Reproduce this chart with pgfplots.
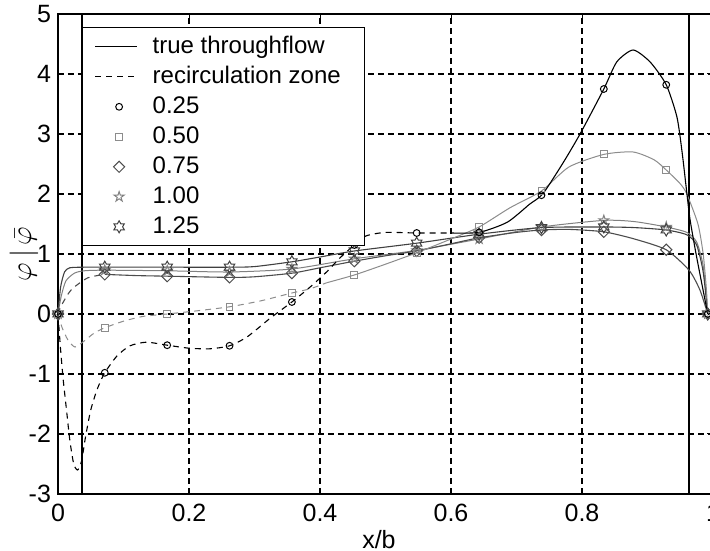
\documentclass[border=0pt]{standalone}
\usepackage{fontspec}
\setmainfont{Liberation Sans}
\usepackage{pgfplots}
\pgfplotsset{compat=1.18}

\definecolor{c25}{gray}{0.0}
\definecolor{c50}{gray}{0.55}
\definecolor{c75}{gray}{0.30}
\definecolor{c100}{gray}{0.50}
\definecolor{c125}{gray}{0.25}

\pgfplotsset{
  lineleg/.style={legend image code/.code={\draw[##1] (0pt,0pt) -- (21pt,0pt);}},
  markleg/.style={legend image code/.code={\draw[##1] plot coordinates {(12pt,0pt)};}},
}

\pgfdeclareplotmark{mdiamond}{%
  \pgfpathmoveto{\pgfpoint{0pt}{\pgfplotmarksize}}%
  \pgfpathlineto{\pgfpoint{\pgfplotmarksize}{0pt}}%
  \pgfpathlineto{\pgfpoint{0pt}{-\pgfplotmarksize}}%
  \pgfpathlineto{\pgfpoint{-\pgfplotmarksize}{0pt}}%
  \pgfpathclose\pgfusepathqstroke}
\pgfdeclareplotmark{pentagram}{%
  \pgfpathmoveto{\pgfpointpolar{90}{\pgfplotmarksize}}%
  \pgfpathlineto{\pgfpointpolar{126}{0.382\pgfplotmarksize}}%
  \pgfpathlineto{\pgfpointpolar{162}{\pgfplotmarksize}}%
  \pgfpathlineto{\pgfpointpolar{198}{0.382\pgfplotmarksize}}%
  \pgfpathlineto{\pgfpointpolar{234}{\pgfplotmarksize}}%
  \pgfpathlineto{\pgfpointpolar{270}{0.382\pgfplotmarksize}}%
  \pgfpathlineto{\pgfpointpolar{306}{\pgfplotmarksize}}%
  \pgfpathlineto{\pgfpointpolar{342}{0.382\pgfplotmarksize}}%
  \pgfpathlineto{\pgfpointpolar{18}{\pgfplotmarksize}}%
  \pgfpathlineto{\pgfpointpolar{54}{0.382\pgfplotmarksize}}%
  \pgfpathclose\pgfusepathqstroke}
\pgfdeclareplotmark{hexagram}{%
  \pgfpathmoveto{\pgfpointpolar{90}{\pgfplotmarksize}}%
  \pgfpathlineto{\pgfpointpolar{120}{0.577\pgfplotmarksize}}%
  \pgfpathlineto{\pgfpointpolar{150}{\pgfplotmarksize}}%
  \pgfpathlineto{\pgfpointpolar{180}{0.577\pgfplotmarksize}}%
  \pgfpathlineto{\pgfpointpolar{210}{\pgfplotmarksize}}%
  \pgfpathlineto{\pgfpointpolar{240}{0.577\pgfplotmarksize}}%
  \pgfpathlineto{\pgfpointpolar{270}{\pgfplotmarksize}}%
  \pgfpathlineto{\pgfpointpolar{300}{0.577\pgfplotmarksize}}%
  \pgfpathlineto{\pgfpointpolar{330}{\pgfplotmarksize}}%
  \pgfpathlineto{\pgfpointpolar{0}{0.577\pgfplotmarksize}}%
  \pgfpathlineto{\pgfpointpolar{30}{\pgfplotmarksize}}%
  \pgfpathlineto{\pgfpointpolar{60}{0.577\pgfplotmarksize}}%
  \pgfpathclose\pgfusepathqstroke}

\begin{document}
\begin{tikzpicture}
\begin{axis}[
  name=ax,
  scale only axis, width=327.5pt, height=240pt,
  xmin=0, xmax=1, ymin=-3, ymax=5,
  xtick={0,0.2,0.4,0.6,0.8,1}, ytick={-3,-2,-1,0,1,2,3,4,5},
  grid=major,
  grid style={black, line width=0.6pt, dash pattern=on 3pt off 2pt},
  axis line style={line width=0.6pt},
  tick align=inside, major tick length=3pt,
  tick style={black, line width=0.5pt},
  /pgf/number format/assume math mode=true,
  ticklabel style={font=\fontsize{12.5}{14}\selectfont},
  xticklabel style={yshift=-1.5pt},
  label style={font=\fontsize{12.5}{14}\selectfont},
  xlabel={x/b},
  xlabel style={at={(axis description cs:0.49,-0.094)}, anchor=center},
  ylabel={$\varphi\,|\,\bar{\varphi}$},
  ylabel style={at={(axis description cs:-0.052,0.5)}, anchor=center,
    font=\fontsize{15}{17}\selectfont},
  legend style={at={(axis cs:0.0366,4.78)}, anchor=north west,
    draw=black, line width=0.6pt, fill=white,
    inner xsep=6pt, inner ysep=2pt, row sep=0pt, column sep=5.5pt,
    font=\fontsize{12}{14}\selectfont,
    nodes={inner xsep=2pt, inner ysep=1.9pt, text height=8.8pt, text depth=2.4pt}},
  legend cell align=left,
]
% legend entries
\addlegendimage{black, line width=0.55pt, lineleg}
\addlegendentry{true throughflow}
\addlegendimage{black, line width=0.55pt, dash pattern=on 3pt off 2.5pt, lineleg}
\addlegendentry{recirculation zone\hspace*{4pt}}
\addlegendimage{only marks, mark=o, mark size=1.7pt, c25, line width=0.5pt, markleg}
\addlegendentry{0.25}
\addlegendimage{only marks, mark=square, mark size=1.7pt, c50, line width=0.5pt, markleg}
\addlegendentry{0.50}
\addlegendimage{only marks, mark=mdiamond, mark size=2.8pt, c75, line width=0.5pt, markleg}
\addlegendentry{0.75}
\addlegendimage{only marks, mark=pentagram, mark size=2.6pt, c100, line width=0.5pt, markleg}
\addlegendentry{1.00}
\addlegendimage{only marks, mark=hexagram, mark size=3pt, c125, line width=0.5pt, markleg}
\addlegendentry{1.25}

% boundaries of the passage
\addplot[black, line width=0.6pt, forget plot] coordinates {(0.0366,-3) (0.0366,5)};
\addplot[black, line width=0.6pt, forget plot] coordinates {(0.9634,-3) (0.9634,5)};

% ---- case 1.00 (pentagram)
\addplot[c100, line width=0.5pt, smooth, tension=0.4, forget plot] coordinates {
 (0,0) (0.005,0.3) (0.012,0.55) (0.025,0.68) (0.04,0.72) (0.0714,0.73) (0.1667,0.72)
 (0.2619,0.7) (0.3571,0.75) (0.4524,0.92) (0.5476,1.06) (0.6429,1.25) (0.7381,1.45)
 (0.8333,1.56) (0.88,1.54) (0.9286,1.45) (0.96,1.36) (0.975,1.2) (0.985,0.8) (0.992,0)};
\addplot[only marks, mark=pentagram, mark size=2.6pt, c100, line width=0.5pt, forget plot] coordinates {
 (0,0) (0.0714,0.73) (0.1667,0.72) (0.2619,0.7) (0.3571,0.75) (0.4524,0.92) (0.5476,1.06)
 (0.6429,1.25) (0.7381,1.45) (0.8333,1.56) (0.9286,1.45) (0.992,0)};

% ---- case 1.25 (hexagram)
\addplot[c125, line width=0.55pt, smooth, tension=0.4, forget plot] coordinates {
 (0,0) (0.004,0.45) (0.01,0.7) (0.018,0.77) (0.04,0.78) (0.0714,0.78) (0.1667,0.78)
 (0.2619,0.78) (0.3,0.79) (0.3571,0.87) (0.4,0.95) (0.4524,1.05) (0.5476,1.18)
 (0.6429,1.33) (0.7381,1.44) (0.8333,1.45) (0.88,1.44) (0.9286,1.4) (0.96,1.32)
 (0.975,1.15) (0.985,0.7) (0.992,0)};
\addplot[only marks, mark=hexagram, mark size=3pt, c125, line width=0.5pt, forget plot] coordinates {
 (0,0) (0.0714,0.78) (0.1667,0.78) (0.2619,0.78) (0.3571,0.87) (0.4524,1.05) (0.5476,1.18)
 (0.6429,1.33) (0.7381,1.44) (0.8333,1.45) (0.9286,1.4) (0.992,0)};

% ---- case 0.75 (diamond)
\addplot[c75, line width=0.55pt, dash pattern=on 3pt off 2.5pt, smooth, tension=0.4, forget plot] coordinates {
 (0,0) (0.004,0.12) (0.02,0.4) (0.045,0.6) (0.0714,0.66)};
\addplot[c75, line width=0.55pt, smooth, tension=0.4, forget plot] coordinates {
 (0.0714,0.66) (0.12,0.64) (0.1667,0.63) (0.2619,0.61) (0.3,0.62) (0.3571,0.68) (0.4,0.77)
 (0.4524,0.88) (0.5,0.97) (0.5476,1.05) (0.6,1.17) (0.6429,1.27) (0.7,1.36) (0.7381,1.4)
 (0.78,1.41) (0.8333,1.37) (0.88,1.25) (0.9286,1.07) (0.9634,0.73) (0.98,0.4) (0.992,0)};
\addplot[only marks, mark=mdiamond, mark size=2.8pt, c75, line width=0.5pt, forget plot] coordinates {
 (0,0) (0.0714,0.66) (0.1667,0.63) (0.2619,0.61) (0.3571,0.68) (0.4524,0.88) (0.5476,1.05)
 (0.6429,1.27) (0.7381,1.4) (0.8333,1.37) (0.9286,1.07) (0.992,0)};

% ---- case 0.50 (square)
\addplot[c50, line width=0.5pt, dash pattern=on 3pt off 2.5pt, smooth, tension=0.4, forget plot] coordinates {
 (0,0) (0.006,-0.22) (0.015,-0.43) (0.026,-0.55) (0.04,-0.45) (0.055,-0.32) (0.0714,-0.23)
 (0.1,-0.12) (0.13,-0.04) (0.1667,0.0) (0.21,0.05) (0.2619,0.12) (0.31,0.22)
 (0.3571,0.35) (0.385,0.42) (0.41,0.52)};
\addplot[c50, line width=0.5pt, smooth, tension=0.4, forget plot] coordinates {
 (0.41,0.52) (0.4524,0.65) (0.5,0.83) (0.5476,1.02) (0.6,1.25) (0.6429,1.45) (0.69,1.77)
 (0.7381,2.05) (0.78,2.45) (0.8333,2.66) (0.878,2.7) (0.91,2.57) (0.9286,2.4) (0.95,2.17)
 (0.96,2.0) (0.977,1.5) (0.985,1.0) (0.99,0.4) (0.992,0)};
\addplot[only marks, mark=square, mark size=1.7pt, c50, line width=0.5pt, forget plot] coordinates {
 (0,0) (0.0714,-0.23) (0.1667,0.0) (0.2619,0.12) (0.3571,0.35) (0.4524,0.65) (0.5476,1.02)
 (0.6429,1.45) (0.7381,2.05) (0.8333,2.66) (0.9286,2.4) (0.992,0)};

% ---- case 0.25 (circle)
\addplot[c25, line width=0.55pt, dash pattern=on 3pt off 2.5pt, smooth, tension=0.4, forget plot] coordinates {
 (0,0) (0.004,-0.6) (0.008,-1.1) (0.013,-1.6) (0.018,-2.1) (0.024,-2.5) (0.03,-2.6)
 (0.036,-2.45) (0.042,-2.05) (0.05,-1.6) (0.06,-1.25) (0.0714,-0.98) (0.09,-0.7)
 (0.11,-0.53) (0.135,-0.47) (0.1667,-0.52) (0.2,-0.57) (0.232,-0.58) (0.2619,-0.53)
 (0.289,-0.38) (0.324,-0.07) (0.3571,0.2) (0.385,0.45) (0.41,0.7) (0.43,0.93)
 (0.4524,1.15) (0.47,1.3) (0.5,1.36) (0.5476,1.35) (0.6,1.35)};
\addplot[c25, line width=0.55pt, smooth, tension=0.4, forget plot] coordinates {
 (0.6,1.35) (0.6429,1.36) (0.686,1.53) (0.72,1.83) (0.74,2.0) (0.77,2.5) (0.797,3.0)
 (0.8333,3.75) (0.853,4.2) (0.878,4.4) (0.904,4.2) (0.9286,3.82) (0.945,3.28)
 (0.953,2.68) (0.96,2.02) (0.965,1.57) (0.975,0.95) (0.992,0)};
\addplot[only marks, mark=o, mark size=1.7pt, c25, line width=0.5pt, forget plot] coordinates {
 (0,0) (0.0714,-0.98) (0.1667,-0.52) (0.2619,-0.53) (0.3571,0.2) (0.4524,1.15) (0.5476,1.35)
 (0.6429,1.36) (0.7381,1.98) (0.8333,3.75) (0.9286,3.82) (0.992,0)};
\end{axis}
\pgfresetboundingbox
\path[use as bounding box] ([shift={(-29pt,-28.5pt)}]ax.south west) rectangle ([shift={(-1.5pt,7pt)}]ax.north east);
\end{tikzpicture}
\end{document}
